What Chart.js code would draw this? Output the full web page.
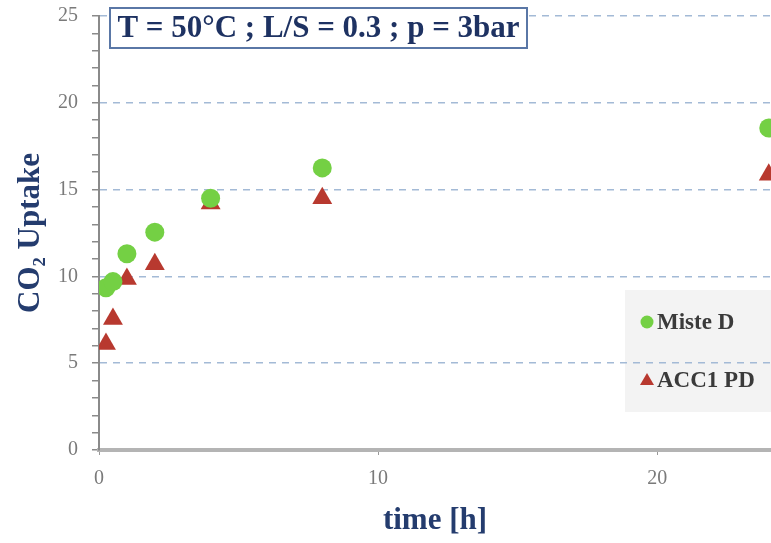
<!DOCTYPE html>
<html>
<head>
<meta charset="utf-8">
<script src="https://cdn.jsdelivr.net/npm/chart.js@4.4.0/dist/chart.umd.min.js"></script>
<style>
  html, body { margin: 0; padding: 0; background: #fff; overflow: hidden; }
  canvas { display: block; }
</style>
</head>
<body>
<canvas id="uptakeChart" width="771" height="543"></canvas>
<script>
// values
var times = [0.25, 0.5, 1, 2, 4, 8, 24];
var misteD = [9.35, 9.7, 11.3, 12.55, 14.5, 16.25, 18.55];
var acc1PD = [6.1, 7.55, 9.85, 10.7, 14.2, 14.5, 15.85];
var seriesNames = ['Miste D', 'ACC1 PD'];
var xTicks = [0, 10, 20];
var yTicks = [0, 5, 10, 15, 20, 25];
var conditions = 'T = 50°C ; L/S = 0.3 ; p = 3bar';

var navy = '#243c6e';
var tickGrey = '#7a7a7a';
var serif = "'Liberation Serif', 'DejaVu Serif', serif";

function toPoints(xs, ys) {
  return xs.map(function (x, i) { return { x: x, y: ys[i] }; });
}

// grey box behind the legend, under the grid lines
var legendBack = {
  id: 'legendBack',
  beforeDraw: function (chart) {
    var a = chart.chartArea, c = chart.ctx;
    c.save();
    c.fillStyle = '#f3f3f3';
    c.fillRect(a.right - 146, a.top + 274, 146, 122);
    c.restore();
  },
  afterDraw: function (chart) {
    var a = chart.chartArea, c = chart.ctx;
    var x0 = a.right - 124;
    var rows = [a.top + 306, a.top + 364];
    c.save();
    c.font = 'bold 23px ' + serif;
    c.textBaseline = 'middle';
    chart.data.datasets.forEach(function (ds, i) {
      var y = rows[i];
      c.fillStyle = ds.backgroundColor;
      c.beginPath();
      if (ds.pointStyle === 'triangle') {
        c.moveTo(x0, y - 7);
        c.lineTo(x0 + 7, y + 5);
        c.lineTo(x0 - 7, y + 5);
      } else {
        c.arc(x0, y, 6.5, 0, Math.PI * 2);
      }
      c.fill();
      c.fillStyle = '#3a3a3a';
      c.fillText(ds.label, x0 + 10, y + 1);
    });
    c.restore();
  }
};

// boxed condition label in the top left corner
var conditionBox = {
  id: 'conditionBox',
  afterDraw: function (chart) {
    var a = chart.chartArea, c = chart.ctx;
    var bx = a.left + 11, by = a.top - 8, bw = 417, bh = 40;
    c.save();
    c.fillStyle = '#fff';
    c.fillRect(bx, by, bw, bh);
    c.strokeStyle = '#5a77a6';
    c.lineWidth = 2;
    c.strokeRect(bx, by, bw, bh);
    c.font = 'bold 31px ' + serif;
    c.fillStyle = '#1e3262';
    c.textAlign = 'center';
    c.textBaseline = 'middle';
    c.fillText(conditions, bx + bw / 2, by + bh / 2 + 1, bw - 10);
    c.restore();
  }
};

var ctx = document.getElementById('uptakeChart').getContext('2d');
var chart = new Chart(ctx, {
  type: 'scatter',
  data: {
    datasets: [
      {
        label: seriesNames[0],
        data: toPoints(times, misteD),
        pointStyle: 'circle',
        pointRadius: 9.5,
        pointHoverRadius: 9.5,
        backgroundColor: '#74d044',
        borderColor: '#74d044',
        borderWidth: 0
      },
      {
        label: seriesNames[1],
        data: toPoints(times, acc1PD),
        pointStyle: 'triangle',
        pointRadius: 11.5,
        pointHoverRadius: 11.5,
        backgroundColor: '#b8392f',
        borderColor: '#b8392f',
        borderWidth: 0
      }
    ]
  },
  options: {
    responsive: false,
    animation: false,
    devicePixelRatio: 1,
    layout: { autoPadding: false, padding: { top: 16, right: 0, left: 0, bottom: 0 } },
    plugins: {
      legend: { display: false },
      tooltip: { enabled: false }
    },
    scales: {
      x: {
        type: 'linear',
        min: 0,
        max: 24.08,
        afterFit: function (s) {
          s.height = 93;
          s.paddingLeft = 0;
          s.paddingRight = 0;
        },
        afterBuildTicks: function (s) {
          s.ticks = xTicks.map(function (v) { return { value: v }; });
        },
        ticks: {
          color: tickGrey,
          font: { family: serif, size: 20 },
          padding: 12,
          maxRotation: 0
        },
        grid: {
          drawOnChartArea: false,
          tickLength: 5,
          tickColor: '#999'
        },
        border: { color: '#b4b4b4', width: 4 },
        title: {
          display: true,
          text: 'time [h]',
          color: navy,
          font: { family: serif, size: 31, weight: 'bold' },
          padding: { top: 2, bottom: 3 }
        }
      },
      y: {
        min: 0,
        max: 25,
        afterFit: function (s) {
          s.width = 99;
          s.paddingTop = 0;
          s.paddingBottom = 0;
        },
        ticks: {
          stepSize: 1,
          autoSkip: false,
          color: tickGrey,
          font: { family: serif, size: 20 },
          padding: 14,
          callback: function (v) { return yTicks.indexOf(v) >= 0 ? v : ''; }
        },
        grid: {
          color: function (c) {
            var v = c.tick && c.tick.value;
            return (yTicks.indexOf(v) > 0) ? '#a3bad6' : 'rgba(0,0,0,0)';
          },
          lineWidth: 1.5,
          tickLength: 7,
          tickColor: '#8a8a8a',
          tickWidth: 1.5
        },
        border: { color: '#8a8a8a', width: 2, dash: [7, 6] },
        title: {
          display: true,
          text: 'CO₂ Uptake',
          color: navy,
          font: { family: serif, size: 31, weight: 'bold' },
          padding: { top: 12, bottom: 2 }
        }
      }
    }
  },
  plugins: [legendBack, conditionBox]
});
</script>
</body>
</html>
